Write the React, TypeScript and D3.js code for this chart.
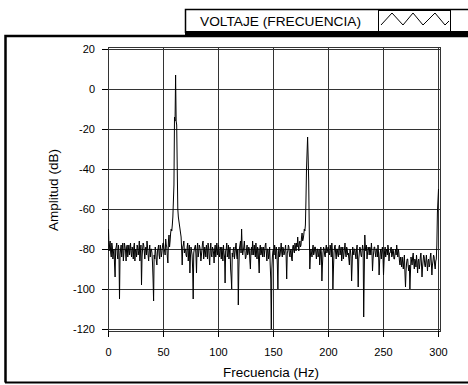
import * as d3 from 'd3';

// Spectrum values, in dB
// amplitude[i] -> i Hz (0..300)
const amplitude: number[] = [
  -70, -78, -82, -77, -85, -80, -94, -79, -83, -78,
  -105, -80, -84, -77, -82, -79, -86, -78, -81, -83,
  -77, -84, -80, -79, -86, -81, -78, -83, -76, -82,
  -98, -80, -78, -85, -79, -76, -83, -81, -84, -80,
  -87, -106, -85, -82, -88, -80, -83, -78, -84, -79,
  -77, -81, -75, -79, -87, -73, -76, -70, -68, -56,
  -14, 7, -18, -60, -66, -70, -74, -88, -78, -82,
  -80, -84, -77, -81, -92, -79, -83, -105, -80, -78,
  -92, -77, -82, -79, -86, -80, -76, -83, -81, -78,
  -85, -79, -88, -77, -84, -80, -87, -78, -81, -83,
  -78, -84, -80, -79, -86, -82, -97, -80, -84, -78,
  -81, -90, -100, -84, -79, -82, -77, -85, -108, -80,
  -76, -70, -83, -79, -81, -84, -78, -82, -80, -90,
  -79, -76, -83, -81, -77, -85, -80, -92, -78, -82,
  -84, -79, -81, -77, -86, -80, -83, -88, -120, -84,
  -80, -78, -85, -81, -100, -79, -83, -77, -84, -80,
  -82, -78, -95, -81, -79, -84, -80, -86, -78, -82,
  -79, -77, -74, -81, -76, -78, -72, -75, -70, -68,
  -40, -24, -46, -90, -80, -84, -78, -82, -79, -85,
  -80, -83, -88, -79, -96, -82, -80, -84, -78, -81,
  -79, -83, -80, -77, -100, -82, -78, -85, -80, -84,
  -78, -81, -86, -79, -83, -77, -84, -80, -82, -88,
  -81, -96, -79, -83, -80, -85, -78, -99, -82, -80,
  -84, -78, -114, -73, -81, -85, -79, -83, -80, -77,
  -91, -82, -79, -84, -80, -78, -93, -82, -85, -79,
  -93, -81, -84, -80, -78, -86, -82, -79, -83, -81,
  -85, -80, -78, -84, -82, -88, -86, -84, -90, -83,
  -99, -87, -85, -91, -100, -84, -88, -82, -90, -86,
  -83, -92, -85, -88, -82, -94, -86, -84, -89, -83,
  -91, -85, -88, -82, -93, -86, -84, -90, -85, -62,
  -50,
];

// amplitudeHalf[i] -> (i + 0.5) Hz (0.5..299.5)
const amplitudeHalf: number[] = [
  -81, -76, -84, -79, -82, -88, -80, -77, -85, -81,
  -83, -78, -80, -86, -77, -81, -79, -84, -78, -80,
  -82, -79, -85, -77, -80, -84, -79, -81, -86, -78,
  -84, -77, -81, -80, -83, -79, -86, -78, -80, -82,
  -95, -83, -79, -86, -81, -78, -85, -80, -82, -77,
  -80, -83, -78, -84, -76, -79, -72, -71, -64, -48,
  -16, -16, -40, -64, -68, -72, -80, -79, -76, -80,
  -83, -79, -86, -78, -84, -81, -90, -82, -79, -83,
  -80, -84, -78, -81, -83, -77, -85, -79, -84, -80,
  -77, -84, -80, -83, -79, -82, -80, -84, -77, -80,
  -82, -79, -85, -81, -78, -84, -81, -77, -82, -85,
  -79, -94, -82, -80, -85, -79, -83, -80, -90, -78,
  -82, -79, -81, -76, -85, -80, -83, -79, -86, -81,
  -83, -80, -78, -84, -81, -79, -86, -80, -83, -79,
  -80, -84, -78, -82, -80, -85, -79, -95, -90, -81,
  -83, -80, -79, -88, -82, -84, -80, -82, -79, -83,
  -80, -84, -82, -78, -83, -81, -85, -79, -81, -77,
  -81, -79, -78, -77, -79, -74, -76, -73, -71, -56,
  -32, -34, -70, -84, -82, -80, -83, -79, -82, -80,
  -84, -80, -84, -82, -88, -79, -83, -80, -82, -79,
  -82, -78, -84, -81, -90, -79, -82, -80, -83, -79,
  -83, -79, -82, -85, -80, -82, -79, -83, -85, -80,
  -84, -88, -81, -80, -83, -80, -86, -85, -79, -83,
  -81, -80, -92, -79, -78, -82, -80, -79, -83, -81,
  -85, -79, -82, -80, -84, -82, -86, -80, -81, -83,
  -86, -79, -81, -83, -80, -82, -80, -84, -80, -85,
  -82, -83, -81, -80, -86, -84, -89, -87, -86, -92,
  -91, -85, -89, -88, -92, -86, -84, -87, -85, -89,
  -87, -86, -90, -84, -87, -89, -83, -88, -86, -87,
  -86, -89, -84, -87, -88, -83, -88, -86, -78, -56,
];

const xTicks = [0, 50, 100, 150, 200, 250, 300];
const yTicks = [20, 0, -20, -40, -60, -80, -100, -120];

const legendLabel = 'VOLTAJE (FRECUENCIA)';
const xTitle = 'Frecuencia (Hz)';
const yTitle = 'Amplitud (dB)';

const W = 468;
const H = 385;
const FONT = '"Liberation Sans", Arial, sans-serif';

export default function App() {
  const plot = { left: 108, right: 440.5, top: 47, bottom: 331 };

  const x = d3.scaleLinear().domain([0, 300]).range([108.5, 438.5]);
  const y = d3.scaleLinear().domain([-121, 21]).range([331, 47]);

  // merge whole-Hz and half-Hz bins into one series
  const points: [number, number][] = [];
  amplitude.forEach((v, i) => {
    points.push([i, v]);
    if (i < amplitudeHalf.length) points.push([i + 0.5, amplitudeHalf[i]]);
  });

  const line = d3
    .line<[number, number]>()
    .x(d => x(d[0]))
    .y(d => y(d[1]));

  // zigzag in the legend swatch
  const zig: [number, number][] = [
    [381, 25], [392, 13], [403, 25], [413, 13], [423, 25], [435, 13], [445, 25], [449, 21],
  ];

  return (
    <svg
      width={W}
      height={H}
      style={{ position: 'absolute', left: 0, top: 0, background: '#fff' }}
      fontFamily={FONT}
    >
      {/* outer panel frame */}
      <path d={`M5.5,${H - 2.5} V36 H${W}`} fill="none" stroke="#000" strokeWidth={2.5} />
      <line x1={5} x2={W} y1={382.5} y2={382.5} stroke="#000" strokeWidth={2} />

      {/* legend */}
      <rect x={185} y={31} width={W - 185} height={4} fill="#000" />
      <path d={`M${W},9.5 H185.5 V33`} fill="none" stroke="#000" strokeWidth={1.5} />
      <text x={200} y={26} fontSize={13.5} textLength={161} lengthAdjust="spacingAndGlyphs">
        {legendLabel}
      </text>
      <rect x={378.5} y={10.5} width={72} height={21} fill="#fff" stroke="#000" strokeWidth={1} />
      <polyline
        points={zig.map(p => p.join(',')).join(' ')}
        fill="none"
        stroke="#000"
        strokeWidth={1}
      />

      {/* grid */}
      {yTicks.map(t => (
        <line
          key={`gy${t}`}
          x1={plot.left}
          x2={plot.right}
          y1={Math.round(y(t)) + 0.5}
          y2={Math.round(y(t)) + 0.5}
          stroke="#333"
          strokeWidth={1}
        />
      ))}
      {xTicks.map(t => (
        <line
          key={`gx${t}`}
          x1={x(t)}
          x2={x(t)}
          y1={plot.top}
          y2={plot.bottom}
          stroke="#333"
          strokeWidth={1}
        />
      ))}
      <rect
        x={plot.left + 0.5}
        y={plot.top + 0.5}
        width={plot.right - plot.left - 0.5}
        height={plot.bottom - plot.top}
        fill="none"
        stroke="#333"
        strokeWidth={1}
      />

      {/* spectrum */}
      <path d={line(points) ?? ''} fill="none" stroke="#000" strokeWidth={1} />

      {/* y axis */}
      {yTicks.map(t => (
        <g key={`ty${t}`}>
          <line
            x1={102}
            x2={plot.left}
            y1={Math.round(y(t)) + 0.5}
            y2={Math.round(y(t)) + 0.5}
            stroke="#000"
          />
          <text x={95} y={y(t) + 4} fontSize={11} textAnchor="end">
            {t}
          </text>
        </g>
      ))}
      <text
        transform={`translate(57.5, 190) rotate(-90)`}
        fontSize={13.5}
        textAnchor="middle"
      >
        {yTitle}
      </text>

      {/* x axis */}
      {xTicks.map(t => (
        <g key={`tx${t}`}>
          <line x1={x(t)} x2={x(t)} y1={plot.bottom} y2={337} stroke="#000" />
          <text x={x(t)} y={356} fontSize={11} textAnchor="middle">
            {t}
          </text>
        </g>
      ))}
      <text x={271} y={377} fontSize={13.5} textAnchor="middle">
        {xTitle}
      </text>
    </svg>
  );
}
